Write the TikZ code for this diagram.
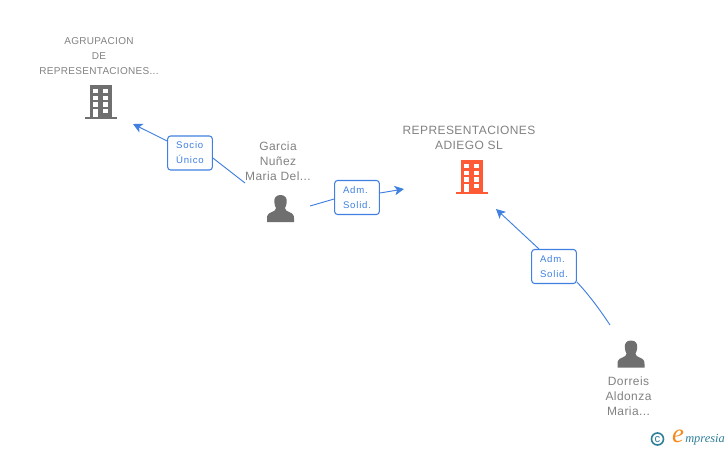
\documentclass[tikz,border=0pt]{standalone}
\usepackage{fontspec}
\setmainfont{Liberation Sans}
\usetikzlibrary{arrows.meta}
\definecolor{edgeblue}{HTML}{3F80E0}
\definecolor{labelgray}{HTML}{828282}
\definecolor{icongray}{HTML}{6F6F6F}
\definecolor{iconorange}{HTML}{FF5A36}
\definecolor{logoteal}{HTML}{2F7F9A}
\definecolor{logoorange}{HTML}{F28A1E}
\tikzset{
  x=0.75pt,y=-0.75pt,
  conn/.style={draw=edgeblue,line width=0.7pt},
  connarrow/.style={conn,-{Stealth[length=7pt,width=7pt,inset=1.8pt]}},
  rolebox/.style={draw=edgeblue,line width=0.8pt,rounded corners=2.2pt,fill=white,inner sep=0pt,
    minimum width=33.5pt,minimum height=25.5pt,text=edgeblue,
    font=\fontsize{7.2}{11.2}\selectfont\addfontfeatures{LetterSpace=8}},
  caption/.style={inner sep=0pt,align=center,text=labelgray,
    font=\fontsize{9}{11.3}\selectfont\addfontfeatures{LetterSpace=3.5}},
  smallcaption/.style={inner sep=0pt,align=center,text=labelgray,
    font=\fontsize{7.5}{11.3}\selectfont\addfontfeatures{LetterSpace=3}},
  pics/building/.style={code={
    \fill[#1] (-11,-34) rectangle (11.3,-2);
    \fill[#1] (-16,-2) rectangle (16,0);
    \foreach \yy in {-30,-23.3,-16.7}{
      \fill[white] (-7.7,\yy) rectangle (-2.7,\yy+4.4);
      \fill[white] (2.3,\yy) rectangle (7.3,\yy+4.4);
    }
    \fill[white] (-7.7,-10) rectangle (-2.7,-2);
    \fill[white] (2.3,-10) rectangle (7.3,-5.6);
  }},
  pics/person/.style={code={
    \fill[icongray] (0,-27) .. controls (-5,-27) and (-6.5,-23.5) .. (-6.2,-20)
      .. controls (-6,-17.5) and (-5.5,-15.5) .. (-4.5,-14)
      .. controls (-4.5,-12) and (-6,-11) .. (-8.5,-10)
      .. controls (-12.5,-8.5) and (-13.5,-7) .. (-13.5,-3.5) -- (-13.5,0) -- (13.5,0) -- (13.5,-3.5)
      .. controls (13.5,-7) and (12.5,-8.5) .. (8.5,-10)
      .. controls (6,-11) and (4.5,-12) .. (4.5,-14)
      .. controls (5.5,-15.5) and (6,-17.5) .. (6.2,-20)
      .. controls (6.5,-23.5) and (5,-27) .. (0,-27) -- cycle;
  }}
}
\begin{document}
\begin{tikzpicture}
\useasboundingbox (0,0) rectangle (728,450);
\fill[white] (0,0) rectangle (728,450);

% icons
\pic at (101,119) {building=icongray};
\pic at (471.5,194) {building=iconorange};
\pic at (280.5,222) {person};
\pic at (631,367.5) {person};

% captions
\node[smallcaption] (agr) at (99,56) {AGRUPACION\\DE\\REPRESENTACIONES...};
\node[caption] (rep) at (469,138) {REPRESENTACIONES\\ADIEGO SL};
\node[caption] (gar) at (278,161) {Garcia\\Nuñez\\Maria Del...};
\node[caption] (dor) at (628.5,396) {Dorreis\\Aldonza\\Maria...};

% connector end points
\coordinate (agrEnd) at (133,124);
\coordinate (garOutA) at (245,183);
\coordinate (garOutB) at (310,206);
\coordinate (repEndA) at (404,189);
\coordinate (repEndB) at (496,209);
\coordinate (dorOut) at (610,325);

% role boxes
\node[rolebox,align=left] (socio) at (190,153) {Socio\\Único};
\node[rolebox,align=left] (admA) at (357,197.5) {Adm.\\Solid.};
\node[rolebox,align=left] (admB) at (554,266.5) {Adm.\\Solid.};

% connectors
\draw[conn] (garOutA) -- (socio.east |- 212,158);
\draw[connarrow] (socio.west |- 168,141) -- (agrEnd);
\draw[conn] (garOutB) -- (admA.west |- 334,199);
\draw[connarrow] (admA.east |- 380,193) -- (repEndA);
\draw[conn] (dorOut) .. controls (600,310) and (590,296) .. (admB.east |- 577,282);
\draw[connarrow] (539,249) -- (repEndB);

% logo
\node[draw=logoteal,line width=1.2pt,circle,inner sep=0pt,minimum size=9pt,text=logoteal,
  font=\fontsize{8.5}{8.5}\selectfont] (copy) at (657.5,439) {c};
\node[inner sep=0pt,text=logoorange,font=\fontspec{Liberation Serif}\itshape\fontsize{20}{20}\selectfont] (logoe) at (678,436.5) {e};
\node[inner sep=0pt,text=logoteal,anchor=west,font=\fontspec{Liberation Serif}\itshape\fontsize{9.3}{10}\selectfont] (logotext) at (685,439.5) {mpresia};
\end{tikzpicture}
\end{document}
